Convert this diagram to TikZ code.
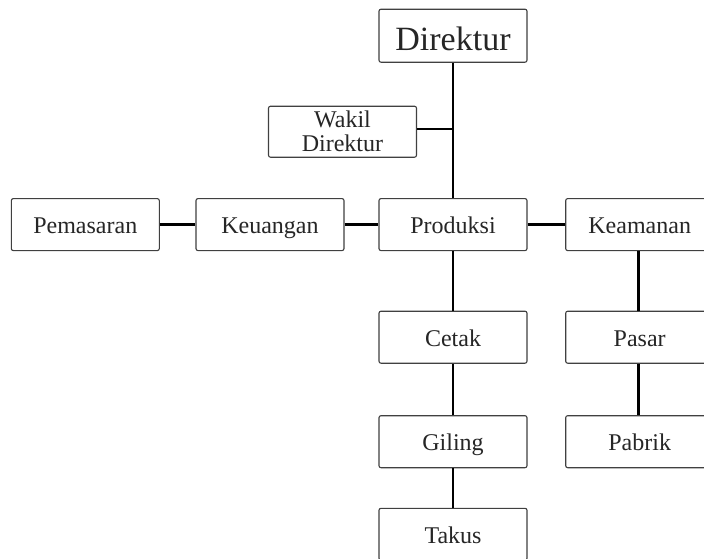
\documentclass[tikz,border=0pt]{standalone}
\usepackage{fontspec}
\setmainfont{Liberation Serif}
\begin{document}
\begin{tikzpicture}[x=1pt,y=-1pt,
  boxbase/.style={draw=black!75, line width=1.1pt, rounded corners=2pt, fill=white,
    minimum width=148pt, minimum height=52pt, inner sep=0pt, text=black!85,
    font=\fontsize{24}{22.5}\selectfont, align=center},
  box/.style={boxbase, text height=18pt, text depth=0pt},
  conn/.style={line width=2.4pt, black}]
\clip (0,0) rectangle (704,558);
\fill[white] (0,0) rectangle (704,558);
\node[box, minimum height=53pt, text height=28.6pt, font=\fontsize{34}{34}\selectfont] (dir) at (453,35.7) {Direktur};
\node[boxbase, minimum height=51pt, font=\fontsize{24}{24}\selectfont] (wakil) at (342.5,131.7) {\raisebox{-2pt}{\parbox{140pt}{\centering Wakil\\Direktur}}};
\node[box] (pem) at (85.3,224.6) {Pemasaran};
\node[box] (keu) at (270,224.6) {Keuangan};
\node[box] (prod) at (453,224.6) {Produksi};
\node[box] (kea) at (639.7,224.6) {Keamanan};
\node[box] (cetak) at (453,337.2) {Cetak};
\node[box] (pasar) at (639.7,337.2) {Pasar};
\node[box] (giling) at (453,441.7) {Giling};
\node[box] (pabrik) at (639.7,441.7) {Pabrik};
\node[box] (takus) at (453,534.3) {Takus};
\draw[conn] (dir.south) -- (prod.north);
\draw[conn] ([yshift=3pt]wakil.east) -- ([yshift=3pt]wakil.east -| dir.south);
\draw[conn] (pem.east) -- (keu.west);
\draw[conn] (keu.east) -- (prod.west);
\draw[conn] (prod.east) -- (kea.west);
\draw[conn] (prod.south) -- (cetak.north);
\draw[conn] (cetak.south) -- (giling.north);
\draw[conn] (giling.south) -- (takus.north);
\draw[conn] ([xshift=-1.4pt]kea.south) -- ([xshift=-1.4pt]pasar.north);
\draw[conn] ([xshift=-1.4pt]pasar.south) -- ([xshift=-1.4pt]pabrik.north);
\end{tikzpicture}
\end{document}
